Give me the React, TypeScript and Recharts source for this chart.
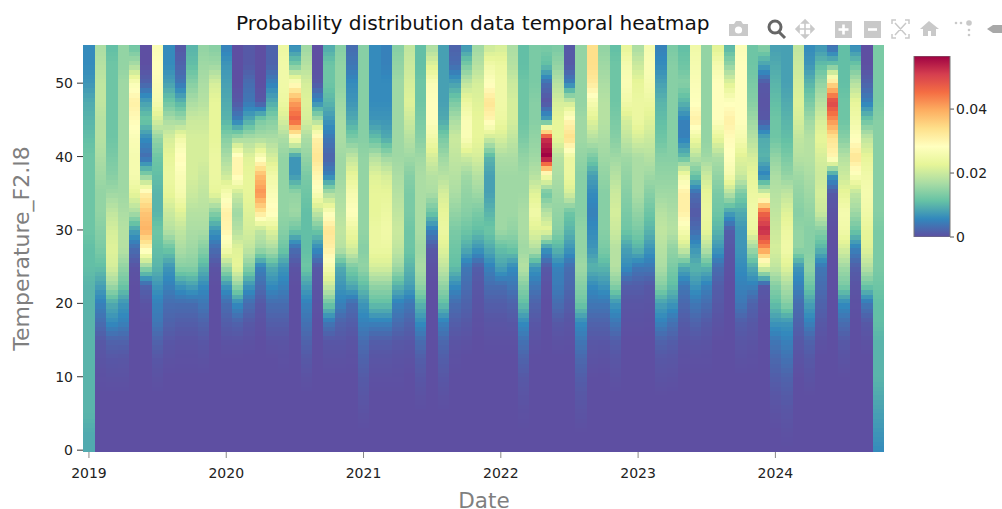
import React from "react";
import { ScatterChart, Scatter, XAxis, YAxis, ZAxis } from "recharts";

// Density values are in thousandths; each month lists rows from the top (55) downward, trailing rows are 0.
const temperatureRows = [55, 52.5, 50, 47.5, 45, 42.5, 40, 37.5, 35, 32.5, 30, 27.5, 25, 22.5, 20, 17.5, 15, 12.5, 10, 7.5, 5, 2.5, 0];
const year2019 = [
  [6,6,7,9,10,11,12,12,12,12,12,11,11,10,10,10,10,10,10,10,10,9,9],
  [17,18,19,19,18,18,17,16,15,15,14,13,11,8,5,3,1,.5,.2],
  [11,12,12,12,12,12,13,14,16,19,21,22,21,16,9,6,2,.8,.3],
  [15,15,16,16,16,16,16,16,16,17,18,18,15,12,7,5,2,.7,.3],
  [12,17,27,31,29,27,26,26,23,17,8,3,.5],
  [0,0,2,8,12,6,3,14,31,37,39,30,15,2,.5],
  [27,28,27,26,21,15,12,11,10,10,12,11,10,7,5,4,2,.8,.3],
  [6,6,8,12,17,21,23,24,23,20,18,12,7,5,3,2,.8,.3],
  [1,2,4,10,16,25,29,27,26,22,19,17,14,7,3,1.5,.5,.2],
  [10,11,14,17,20,21,21,21,20,18,17,16,14,8,3,1.5,.5,.2],
  [15,16,17,18,20,21,21,20,19,18,17,14,10,6,4,2,.8,.3],
  [14,16,21,23,23,23,24,24,23,14,7,3,.5],
];
const year2020 = [
  [5,7,8,9,10,14,17,20,26,31,30,26,16,7,3,1.5,.5],
  [0,0,0,1,5,16,30,30,20,16,18,22,23,15,6,2,.5],
  [1,1,3,4,9,17,22,23,23,22,21,19,14,7,3,1,.3],
  [0,0,0,1,13,17,27,38,42,33,19,16,5,3,1,.3],
  [2,2,5,9,14,17,21,25,27,29,22,17,9,6,3,1.5,.5],
  [24,25,25,24,21,17,15,15,15,15,14,12,7,5,3,1.5,.5,.2],
  [6,13,28,41,47,27,7,7,15,16,12,3,.5],
  [16,18,21,22,21,17,15,13,12,11,11,11,12,8,5,3.5,2,1,.3],
  [0,0,1,6,17,31,33,30,27,19,12,6,1,.5,.3],
  [9,12,12,10,7,4,2,5,17,27,33,31,26,20,12,4,.8,.3],
  [14,15,15,16,17,17,16,16,17,18,19,18,9,7,5,2,.8,.3],
  [3,4,6,7,9,13,19,23,26,28,24,21,13,9,3,1.5,.5,.2],
];
const year2021 = [
  [14,14,14,14,14,14,15,15,15,15,15,14,15,11,7,5,3,2,1.2,.7,.3],
  [6,6,6,6,7,11,18,22,23,23,24,24,21,15,11,5,1.5,.6,.2],
  [5,5,6,6,7,9,16,21,23,24,25,24,21,15,11,5,1.5,.6,.2],
  [14,15,16,16,16,16,16,17,18,19,20,19,16,10,5,3,1,.4,.2],
  [19,20,21,22,20,18,16,14,13,13,12,12,10,8,4,2,.8,.3],
  [11,11,12,12,13,14,16,17,17,17,17,16,17,15,10,6,3,1.5,.8,.3],
  [17,22,27,28,28,25,21,18,17,12,5,1,.3],
  [8,8,8,8,9,13,16,18,21,23,24,22,19,15,11,5,2.5,1.5,.8,.3],
  [2,3,8,13,17,20,19,18,17,15,13,12,11,6,3,1.5,.5,.2],
  [7,13,19,24,27,27,20,16,15,14,12,9,4,3,2,1,.3],
  [16,18,21,22,23,23,21,18,16,13,11,7,1.5,.8,.5,.2],
  [20,25,28,33,30,20,10,8,8,10,12,9,5,3,1.5,.6,.2],
];
const year2022 = [
  [21,24,25,25,24,21,17,16,16,16,16,11,8,3,1.5,.6,.2],
  [17,18,20,21,21,19,17,16,16,16,15,12,6,4,2,.8,.2],
  [11,11,12,12,12,13,15,16,16,17,17,16,18,14,11,6,3.5,2,1,.5,.2],
  [13,13,13,14,14,15,16,18,22,25,22,18,7,4,2,.8,.3],
  [13,11,3,.5,8,52,57,26,12,18,23,7,1,.3],
  [13,15,18,21,23,23,18,17,16,15,14,10,5,4.5,3,1,.3],
  [1,1,5,20,30,34,24,24,21,12,10,7,3,2.5,1.5,.6,.2],
  [15,15,15,15,16,16,15,14,14,14,15,15,16,14,12,6,4,2.5,1.5,.8,.4],
  [34,34,32,26,22,18,13,8,6,5,6,7,10,6,4,2,.8,.4],
  [15,16,17,18,18,17,16,15,14,14,14,13,10,7,4,2,.8,.3],
  [11,12,12,12,13,14,16,18,20,21,20,18,18,14,7,4,1.5,.7,.3],
  [23,26,27,25,21,19,16,15,14,13,12,8,6,1.5,.6,.3],
];
const year2023 = [
  [17,20,23,24,24,21,17,17,17,15,13,10,4,1.5,.6,.3],
  [26,27,26,24,22,20,18,16,14,12,10,7,4,1,.5,.2],
  [5,6,8,10,11,12,14,15,16,18,19,18,17,14,8,5,2,.8,.4],
  [13,14,14,14,14,14,14,15,16,17,18,15,13,11,7,3.5,1.5,.7,.3],
  [11,12,14,10,5,5,11,25,31,31,26,20,9,4,2.5,1.2,.5,.2],
  [25,26,27,28,31,24,18,12,3,1,3,7,10,7,4,2,.7,.2],
  [15,15,15,15,15,15,16,20,23,24,23,18,10,5,3,1.2,.5,.2],
  [22,26,28,28,28,23,17,15,13,12,10,7,3,1.5,1,.4],
  [10,15,22,28,31,29,28,26,18,8,1.5,.8,.3],
  [27,28,28,28,28,26,22,20,13,9,7,7,6,5,4,1.5,.7,.3],
  [12,12,13,14,16,18,21,23,24,25,24,16,9,5,2,1,.5,.2],
  [14,8,1,.5,1,9,10,5,21,46,53,42,22,1,.3],
];
const year2024 = [
  [8,9,10,11,12,12,15,17,18,19,20,21,19,14,11,7,4,2.5,1.5,.7,.3],
  [8,8,8,9,10,11,13,15,19,22,24,25,22,17,14,7,5,3.5,2,1.2,.6,.2],
  [19,20,21,22,21,19,18,16,15,14,15,15,7,5,3,2,1,.4],
  [6,7,10,13,16,18,18,17,16,15,14,14,15,12,8,5,2,1,.4],
  [7,11,15,18,21,23,21,20,21,20,14,10,4,3,2,1,.3],
  [3,12,34,50,42,33,30,7,1,.3],
  [11,11,11,12,12,14,18,20,23,26,25,21,16,13,6,3,1,.4],
  [6,12,18,23,25,28,33,27,19,16,12,5,1.5,.5,.2],
  [0,0,2,5,12,19,23,25,26,25,23,22,18,12,4,1,.3],
  [13,13,13,13,14,14,14,14,14,14,13,13,13,12,11,11,10,10,10,9,8,7,6],
];
const months = [...year2019, ...year2020, ...year2021, ...year2022, ...year2023, ...year2024];
const yearTicks = [0, 12, 24, 36, 48, 60];
const firstYear = 2019;
const temperatureTicks = [0, 10, 20, 30, 40, 50];
const densityTicks = [0, 0.02, 0.04];
const densityMax = 0.0566;
const colorbarPoint = [{ x: 0.5, y: densityMax / 2 }];
const spectral = ["#5e4fa2", "#3288bd", "#66c2a5", "#abdda4", "#e6f598", "#ffffbf", "#fee08b", "#fdae61", "#f46d43", "#d53e4f", "#9e0142"];

const WIDTH = 1002, HEIGHT = 509;
const PLOT = { left: 83, top: 45, right: 885, bottom: 452 };
const yDomain: [number, number] = [-0.25, 55.2];
const xDomain: [number, number] = [-0.52, 69.58];
const colW = (PLOT.right - PLOT.left) / (xDomain[1] - xDomain[0]);
const pxPerUnit = (PLOT.bottom - PLOT.top) / (yDomain[1] - yDomain[0]);
const SUB = 4;
const BAR = { width: 36, height: 181 };

const hex = (s: string) => [1, 3, 5].map((i) => parseInt(s.slice(i, i + 2), 16));
function colorOf(v: number) {
  const t = Math.max(0, Math.min(1, v / densityMax)) * (spectral.length - 1);
  const i = Math.min(Math.floor(t), spectral.length - 2);
  const a = hex(spectral[i]), b = hex(spectral[i + 1]), f = t - i;
  return `rgb(${a.map((c, k) => Math.round(c + (b[k] - c) * f)).join(",")})`;
}

const cells = months.flatMap((col, m) =>
  temperatureRows.map((temperature, r) => ({
    month: m,
    temperature,
    density: (col[r] ?? 0) / 1000,
    above: r > 0 ? (col[r - 1] ?? 0) / 1000 : null,
  }))
);

function HeatCell(props: any) {
  const { cx, cy, payload } = props;
  if (cx == null || cy == null) return null;
  const x = cx - colW / 2;
  const { density, above, temperature } = payload;
  const rects: React.ReactNode[] = [];
  if (above == null) {
    rects.push(<rect key="t" x={x} y={cy - 1} width={colW} height={2} fill={colorOf(density)} />);
  } else {
    const full = 2.5 * pxPerUnit;
    const h = full / SUB;
    for (let k = 0; k < SUB; k++) {
      const f = (k + 0.5) / SUB;
      rects.push(
        <rect key={k} x={x} y={cy - h * (k + 1)} width={colW} height={h + 0.6} fill={colorOf(density + (above - density) * f)} />
      );
    }
  }
  if (temperature === 0) {
    rects.push(<rect key="b" x={x} y={cy} width={colW} height={2} fill={colorOf(density)} />);
  }
  return <g shapeRendering="crispEdges">{rects}</g>;
}

function ColorbarShape(props: any) {
  const { cx, cy } = props;
  if (cx == null || cy == null) return null;
  return (
    <g>
      <defs>
        <linearGradient id="colorbarFill" x1="0" y1="1" x2="0" y2="0">
          {spectral.map((s, i) => (
            <stop key={s} offset={i / (spectral.length - 1)} stopColor={s} />
          ))}
        </linearGradient>
      </defs>
      <rect x={cx - BAR.width / 2} y={cy - BAR.height / 2} width={BAR.width} height={BAR.height} fill="url(#colorbarFill)" stroke="#777" strokeWidth={1} />
    </g>
  );
}

const tickStyle = { fill: "#222", fontSize: 14, fontFamily: "DejaVu Sans" };
const titleStyle = { fill: "#7f7f7f", fontFamily: "DejaVu Sans" };

function Modebar() {
  const c = "#c9c9c9";
  return (
    <svg width={WIDTH} height={60} style={{ position: "absolute", left: 0, top: 0, pointerEvents: "none" }}>
      <path d="M729 24h5l2-3h5l2 3h5v12h-19z" fill={c} />
      <circle cx={738.5} cy={30} r={3.6} fill="#fff" />
      <circle cx={775} cy={27} r={6} fill="none" stroke="#666" strokeWidth={3} />
      <path d="M779 32l6 6" stroke="#666" strokeWidth={3} />
      <path d="M805 21v16M797 29h16M805 20l-3 3h6zM805 38l-3-3h6zM796 29l3-3v6zM814 29l-3-3v6z" stroke={c} strokeWidth={1.6} fill={c} />
      <rect x={835} y={21} width={17} height={17} fill={c} />
      <path d="M843.5 24.5v10M838.5 29.5h10" stroke="#fff" strokeWidth={2.6} />
      <rect x={864} y={21} width={17} height={17} fill={c} />
      <path d="M868 29.5h9" stroke="#fff" strokeWidth={2.6} />
      <path d="M892 24v-4h4M905 20h4v4M909 34v4h-4M896 38h-4v-4M895 23l11 12M906 23l-11 12" stroke={c} strokeWidth={1.5} fill="none" />
      <path d="M929 21l-9 8h3v7h5v-5h3v5h5v-7h3z" fill={c} />
      <circle cx={956} cy={23} r={1.3} fill={c} />
      <circle cx={961} cy={23} r={1.3} fill={c} />
      <circle cx={969} cy={23} r={2.8} fill={c} />
      <circle cx={969} cy={30} r={1.3} fill={c} />
      <circle cx={969} cy={35} r={1.3} fill={c} />
      <path d="M987 29l6-4h9v8h-9z" fill="#a8a8a8" />
    </svg>
  );
}

export default function App() {
  return (
    <div style={{ position: "absolute", left: 0, top: 0, width: WIDTH, height: HEIGHT, background: "#fff", overflow: "hidden" }}>
      <div style={{ position: "absolute", left: 236, top: 11, fontFamily: "DejaVu Sans", fontSize: 20.15, color: "#111", whiteSpace: "nowrap" }}>
        Probability distribution data temporal heatmap
      </div>
      <Modebar />
      <ScatterChart
        width={WIDTH}
        height={HEIGHT}
        margin={{ top: PLOT.top, right: WIDTH - PLOT.right, bottom: 0, left: 0 }}
        style={{ position: "absolute", left: 0, top: 0 }}
      >
        <XAxis
          type="number"
          dataKey="month"
          domain={xDomain}
          ticks={yearTicks}
          tickFormatter={(m: number) => String(firstYear + m / 12)}
          height={HEIGHT - PLOT.bottom}
          axisLine={false}
          tickSize={6}
          tickMargin={10}
          tick={tickStyle}
          tickLine={{ stroke: "#888" }}
          allowDataOverflow
          label={{ value: "Date", position: "insideBottom", offset: 1, style: { ...titleStyle, fontSize: 21.5 } }}
        />
        <YAxis
          type="number"
          dataKey="temperature"
          domain={yDomain}
          ticks={temperatureTicks}
          width={PLOT.left}
          axisLine={false}
          tickSize={6}
          tickMargin={4}
          tick={tickStyle}
          tickLine={{ stroke: "#333" }}
          allowDataOverflow
          label={{ value: "Temperature_F2.I8", angle: -90, position: "insideLeft", offset: 21, style: { ...titleStyle, fontSize: 22, textAnchor: "middle" } }}
        />
        <ZAxis range={[10, 10]} />
        <Scatter data={cells} shape={HeatCell} isAnimationActive={false} />
      </ScatterChart>
      <ScatterChart
        width={102}
        height={250}
        margin={{ top: 56, right: 0, bottom: 13, left: 14 }}
        style={{ position: "absolute", left: 900, top: 0 }}
      >
        <XAxis type="number" dataKey="x" domain={[0, 1]} hide />
        <YAxis
          type="number"
          dataKey="y"
          orientation="right"
          domain={[0, densityMax]}
          ticks={densityTicks}
          tickFormatter={(v: number) => String(v)}
          width={52}
          axisLine={false}
          tickSize={4}
          tickMargin={2}
          tick={tickStyle}
          tickLine={{ stroke: "#555" }}
          allowDataOverflow
        />
        <ZAxis range={[10, 10]} />
        <Scatter data={colorbarPoint} shape={ColorbarShape} isAnimationActive={false} />
      </ScatterChart>
    </div>
  );
}
